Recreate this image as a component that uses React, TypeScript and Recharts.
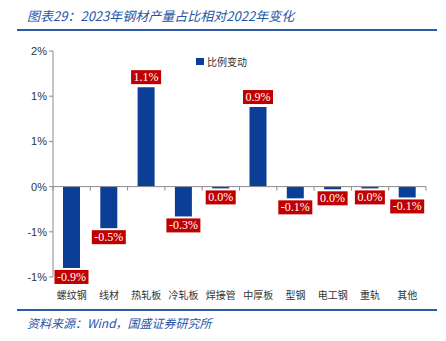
import { BarChart, Bar, XAxis, YAxis, ReferenceLine, LabelList } from 'recharts';

const categories = ['螺纹钢', '线材', '热轧板', '冷轧板', '焊接管', '中厚板', '型钢', '电工钢', '重轨', '其他'];
const changes = [-0.9, -0.46, 1.1, -0.33, -0.02, 0.88, -0.13, -0.03, -0.02, -0.12];
const yTicks = [-1, -0.5, 0, 0.5, 1, 1.5];

const BLUE = '#0B3F97';
const RED = '#C00000';
const TITLE_BLUE = '#2A55A3';
const AXIS = '#8C8C8C';

const W = 446;
const H = 341;
const M = { top: 51, right: 20, bottom: 44, left: 8 };
const X_AXIS_H = 20;
const Y_AXIS_W = 45;
const Y_MIN = -1;
const Y_MAX = 1.5;

// zero line position inside the plot area, used for the tick marks between categories
const plotH = H - M.top - M.bottom - X_AXIS_H;
const zeroY = M.top + (plotH * Y_MAX) / (Y_MAX - Y_MIN);
const bandW = (W - M.left - M.right - Y_AXIS_W) / categories.length;

const data = categories.map((name, i) => ({ name, value: changes[i] }));

function fmtTick(v: number) {
  const r = Math.sign(v) * Math.round(Math.abs(v));
  return `${r === 0 ? 0 : r}%`;
}

function fmtLabel(v: number) {
  const s = v.toFixed(1);
  return `${s === '-0.0' ? '0.0' : s}%`;
}

function textWidth(s: string) {
  let w = 0;
  for (const c of s) w += c === '.' ? 3 : c === '-' ? 4 : c === '%' ? 10 : 6;
  return w;
}

function CategoryTick(props: any) {
  const { x, y, payload } = props;
  const left = x - bandW / 2;
  return (
    <g>
      <line x1={left} x2={left} y1={zeroY} y2={zeroY + 4} stroke={AXIS} strokeWidth={1} />
      {payload.index === categories.length - 1 && (
        <line x1={left + bandW} x2={left + bandW} y1={zeroY} y2={zeroY + 4} stroke={AXIS} />
      )}
      <text x={x} y={y + 14} textAnchor="middle" fontSize={10} fill="#333" fontFamily="'Noto Sans CJK SC'">
        {payload.value}
      </text>
    </g>
  );
}

function ValueLabel(props: any) {
  const { x, y, width, height, value } = props;
  const top = Math.min(y, y + height);
  const bottom = Math.max(y, y + height);
  const text = fmtLabel(value);
  const bw = textWidth(text) + 5;
  const bh = 14;
  const cx = x + width / 2;
  const by = value >= 0 ? top - 3 - bh : bottom + 2;
  return (
    <g>
      <rect x={cx - bw / 2} y={by} width={bw} height={bh} fill={RED} />
      <text
        x={cx}
        y={by + 11}
        textAnchor="middle"
        fontSize={12}
        fill="#fff"
        fontFamily="'Liberation Serif', serif"
      >
        {text}
      </text>
    </g>
  );
}

export default function App() {
  return (
    <div style={{ position: 'absolute', left: 0, top: 0, width: W, height: H, background: '#fff' }}>
      <div
        style={{
          position: 'absolute',
          left: 27,
          top: 6,
          fontSize: 13,
          fontStyle: 'italic',
          color: TITLE_BLUE,
          fontFamily: "'Noto Sans CJK SC'",
          whiteSpace: 'nowrap',
        }}
      >
        图表29：2023年钢材产量占比相对2022年变化
      </div>
      <div style={{ position: 'absolute', left: 17, top: 29, width: 420, height: 2, background: '#2E5AA8' }} />
      <BarChart
        width={W}
        height={H}
        data={data}
        margin={M}
        barSize={17}
        style={{ position: 'absolute', left: 0, top: 0 }}
      >
        <XAxis
          dataKey="name"
          axisLine={false}
          tickLine={false}
          height={X_AXIS_H}
          interval={0}
          tick={<CategoryTick />}
        />
        <YAxis
          domain={[Y_MIN, Y_MAX]}
          ticks={yTicks}
          width={Y_AXIS_W}
          tickFormatter={fmtTick}
          axisLine={{ stroke: AXIS }}
          tickLine={{ stroke: AXIS }}
          tickSize={4}
          tick={{ fontSize: 11, fill: '#333', fontFamily: "'Liberation Sans', Arial" }}
        />
        <ReferenceLine y={0} stroke={AXIS} strokeWidth={1} />
        <Bar dataKey="value" name="比例变动" fill={BLUE} isAnimationActive={false}>
          <LabelList dataKey="value" content={<ValueLabel />} />
        </Bar>
      </BarChart>
      <div
        style={{
          position: 'absolute',
          left: 196,
          top: 54,
          display: 'flex',
          alignItems: 'center',
          fontSize: 10,
          color: '#333',
          fontFamily: "'Noto Sans CJK SC'",
          whiteSpace: 'nowrap',
        }}
      >
        <span style={{ display: 'inline-block', width: 8, height: 7, background: BLUE, marginRight: 3 }} />
        比例变动
      </div>
      <div style={{ position: 'absolute', left: 17, top: 309, width: 420, height: 2, background: '#2E5AA8' }} />
      <div
        style={{
          position: 'absolute',
          left: 27,
          top: 314,
          fontSize: 12,
          fontStyle: 'italic',
          color: TITLE_BLUE,
          fontFamily: "'Noto Sans CJK SC'",
          whiteSpace: 'nowrap',
        }}
      >
        资料来源：Wind，国盛证券研究所
      </div>
    </div>
  );
}
